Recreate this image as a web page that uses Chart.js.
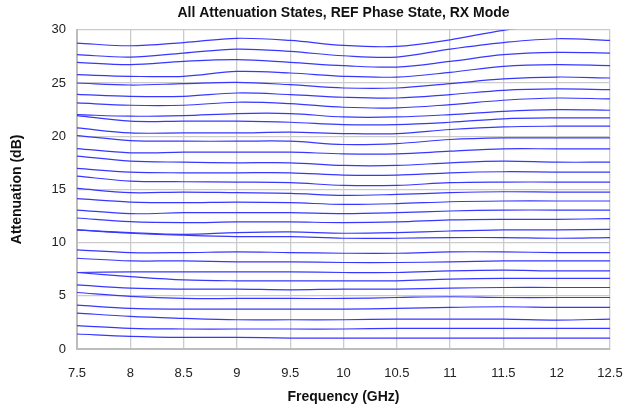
<!DOCTYPE html>
<html>
<head>
<meta charset="utf-8">
<script src="https://cdn.jsdelivr.net/npm/chart.js@4"></script>
<style>
  html, body { margin: 0; padding: 0; background: #fff; }
  #wrap { width: 628px; height: 412px; }
</style>
</head>
<body>
<div id="wrap"><canvas id="attenChart" width="628" height="412"></canvas></div>
<script>
const freqLabels = ['7.5', '8', '8.5', '9', '9.5', '10', '10.5', '11', '11.5', '12', '12.5'];
const yTicks = [0, 5, 10, 15, 20, 25, 30];

// one array per attenuation state, values in dB at each frequency label
const s01 = [1.41, 1.19, 1.09, 1.09, 1.03, 1.03, 1.03, 1.03, 1.03, 1.03, 1.03];
const s02 = [2.19, 1.94, 1.88, 1.88, 1.88, 1.88, 1.94, 1.94, 1.94, 1.94, 1.94];
const s03 = [3.38, 3.06, 2.88, 2.75, 2.75, 2.75, 2.81, 2.81, 2.81, 2.72, 2.81];
const s04 = [4.13, 3.81, 3.75, 3.75, 3.75, 3.75, 3.81, 3.91, 3.97, 3.91, 3.91];
const s05 = [5.31, 4.94, 4.75, 4.75, 4.75, 4.75, 4.84, 4.91, 4.84, 4.84, 4.84];
const s06 = [6.03, 5.72, 5.63, 5.63, 5.56, 5.63, 5.63, 5.72, 5.78, 5.78, 5.78];
const s07 = [7.19, 6.81, 6.50, 6.41, 6.41, 6.41, 6.41, 6.56, 6.63, 6.63, 6.63];
const s08 = [7.19, 7.25, 7.25, 7.25, 7.25, 7.19, 7.19, 7.34, 7.41, 7.34, 7.34];
const s09 = [8.53, 8.28, 8.28, 8.19, 8.19, 8.13, 8.13, 8.19, 8.28, 8.28, 8.28];
const s10 = [9.31, 9.06, 9.06, 9.13, 9.06, 9.00, 9.00, 9.13, 9.13, 9.06, 9.06];
const s11 = [11.19, 10.88, 10.69, 10.56, 10.56, 10.41, 10.41, 10.47, 10.47, 10.41, 10.47];
const s12 = [11.19, 10.94, 10.78, 10.94, 11.00, 10.88, 10.94, 11.09, 11.19, 11.19, 11.25];
const s13 = [12.31, 11.97, 11.88, 11.94, 11.94, 11.88, 11.94, 12.13, 12.19, 12.19, 12.25];
const s14 = [13.06, 12.72, 12.81, 12.81, 12.81, 12.72, 12.81, 12.97, 13.06, 13.06, 13.06];
const s15 = [14.13, 13.81, 13.75, 13.81, 13.75, 13.59, 13.66, 13.84, 13.91, 13.91, 13.91];
const s16 = [15.09, 14.69, 14.75, 14.69, 14.63, 14.44, 14.53, 14.69, 14.78, 14.75, 14.75];
const s17 = [16.25, 15.78, 15.72, 15.69, 15.63, 15.38, 15.38, 15.63, 15.69, 15.69, 15.69];
const s18 = [16.97, 16.63, 16.56, 16.56, 16.56, 16.34, 16.34, 16.56, 16.66, 16.63, 16.63];
const s19 = [18.13, 17.66, 17.56, 17.50, 17.50, 17.25, 17.25, 17.50, 17.66, 17.56, 17.56];
const s20 = [18.84, 18.44, 18.50, 18.50, 18.50, 18.34, 18.34, 18.59, 18.81, 18.81, 18.81];
const s21 = [20.06, 19.59, 19.53, 19.53, 19.53, 19.22, 19.31, 19.69, 19.84, 19.84, 19.84];
const s22 = [20.78, 20.31, 20.31, 20.31, 20.38, 20.25, 20.25, 20.63, 20.88, 20.94, 20.94];
const s23 = [21.94, 21.41, 21.41, 21.41, 21.31, 21.09, 21.09, 21.31, 21.63, 21.72, 21.72];
const s24 = [22.03, 21.88, 21.94, 22.13, 22.13, 21.81, 21.81, 22.03, 22.34, 22.50, 22.44];
const s25 = [23.13, 22.91, 22.91, 23.19, 23.06, 22.72, 22.66, 22.97, 23.38, 23.59, 23.50];
const s26 = [23.94, 23.75, 23.75, 24.06, 23.91, 23.66, 23.59, 23.91, 24.31, 24.44, 24.38];
const s27 = [25.00, 24.81, 24.94, 25.06, 24.84, 24.53, 24.53, 24.94, 25.38, 25.56, 25.47];
const s28 = [25.78, 25.63, 25.63, 26.09, 25.94, 25.63, 25.56, 26.00, 26.56, 26.72, 26.63];
const s29 = [26.94, 26.72, 27.03, 27.19, 26.94, 26.63, 26.50, 27.03, 27.66, 27.88, 27.81];
const s30 = [27.66, 27.44, 27.81, 28.19, 27.97, 27.56, 27.44, 28.19, 28.80, 29.16, 29.00];
const s31 = [28.75, 28.50, 28.80, 29.20, 29.00, 28.53, 28.44, 29.06, 29.95, 30.50, 30.40];

const stateSeries = [s01, s02, s03, s04, s05, s06, s07, s08, s09, s10, s11, s12, s13, s14, s15, s16,
  s17, s18, s19, s20, s21, s22, s23, s24, s25, s26, s27, s28, s29, s30, s31];

const FONT = "'Liberation Sans', Arial, sans-serif";
const gridColor = '#cbcbcb';

const datasets = stateSeries.map((vals, idx) => ({
  label: `${idx + 1} dB`,
  data: vals,
  borderColor: 'rgb(55,55,255)',
  borderWidth: 1.2,
  pointRadius: 0,
  tension: 0.35,
  fill: false
}));

new Chart(document.getElementById('attenChart'), {
  type: 'line',
  data: { labels: freqLabels, datasets },
  options: {
    responsive: false,
    animation: false,
    layout: { padding: { left: 9, right: 18, top: 0, bottom: 6 } },
    plugins: {
      legend: { display: false },
      tooltip: { enabled: false },
      title: {
        display: true,
        text: 'All Attenuation States, REF Phase State, RX Mode',
        color: '#111',
        font: { family: FONT, size: 14, weight: 'bold' },
        padding: { top: 5, bottom: 8 },
        fullSize: false
      }
    },
    scales: {
      x: {
        type: 'category',
        offset: false,
        grid: { color: gridColor, lineWidth: 1.3, drawTicks: false },
        border: { color: '#bdbdbd', width: 2 },
        ticks: { color: '#222', font: { family: FONT, size: 13 }, padding: 17, maxRotation: 0, autoSkip: false },
        title: {
          display: true,
          text: 'Frequency (GHz)',
          color: '#111',
          font: { family: FONT, size: 14, weight: 'bold' },
          padding: { top: 2, bottom: 0 }
        },
        afterFit: (scale) => {
          scale.height = 57;
          scale.paddingLeft = 0;
          scale.paddingRight = 0;
        }
      },
      y: {
        min: 0,
        max: 30,
        grid: { color: gridColor, lineWidth: 1.3, drawTicks: false },
        border: { color: '#bdbdbd', width: 2 },
        afterBuildTicks: (scale) => { scale.ticks = yTicks.map((v) => ({ value: v })); },
        ticks: { color: '#222', font: { family: FONT, size: 13 }, padding: 11 },
        title: {
          display: true,
          text: 'Attenuation (dB)',
          color: '#111',
          font: { family: FONT, size: 14, weight: 'bold' },
          padding: { top: 0, bottom: 6 }
        },
        afterFit: (scale) => { scale.width = 68; }
      }
    }
  }
});
</script>
</body>
</html>
